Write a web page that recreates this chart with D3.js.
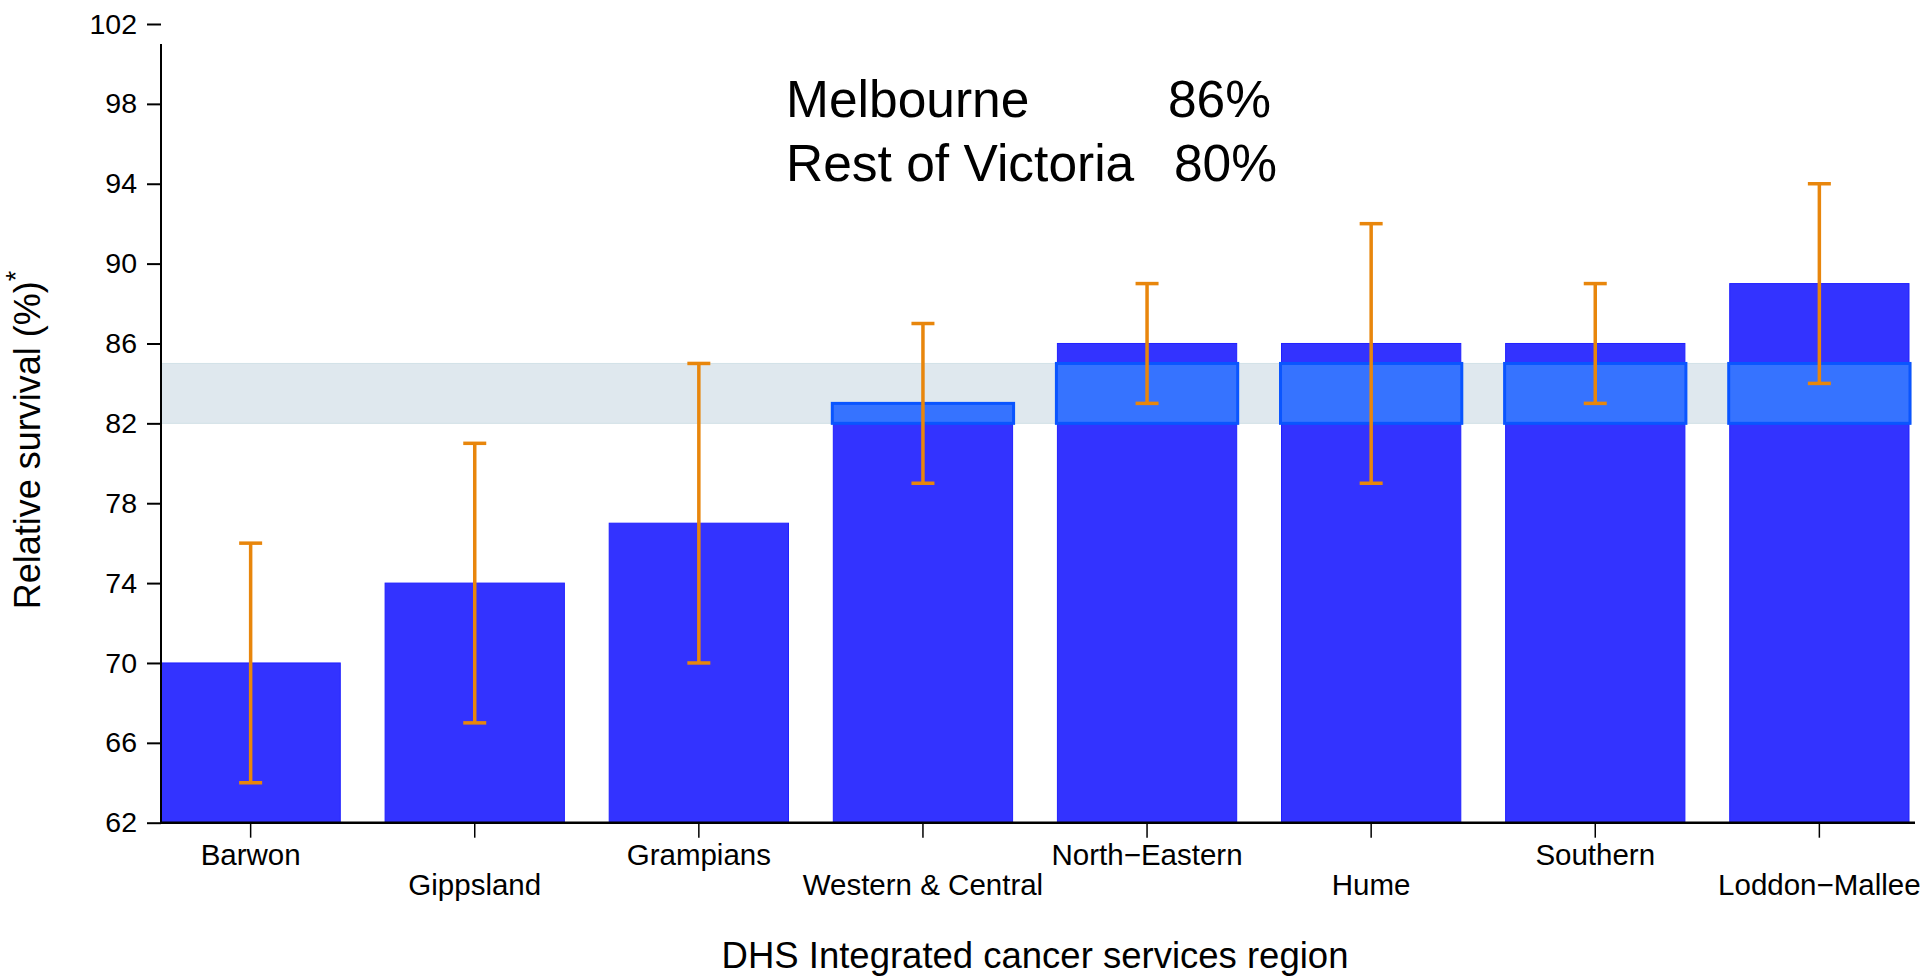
<!DOCTYPE html>
<html>
<head>
<meta charset="utf-8">
<script src="https://cdn.jsdelivr.net/npm/d3@7"></script>
<style>
  html, body { margin: 0; padding: 0; background: #fff; }
  svg { display: block; font-family: "Liberation Sans", Arial, Helvetica, sans-serif; }
</style>
</head>
<body>
<svg id="chart" width="1924" height="976"></svg>
<script>
// ---- data ----
const regions = ["Barwon", "Gippsland", "Grampians", "Western & Central", "North\u2212Eastern", "Hume", "Southern", "Loddon\u2212Mallee"];
const survival = [70, 74, 77, 83, 86, 86, 86, 89];
const ciLower = [64, 67, 70, 79, 83, 79, 83, 84];
const ciUpper = [76, 81, 85, 87, 89, 92, 89, 94];
const bandRange = [82, 85];          // shaded reference band
const yTicks = [62, 66, 70, 74, 78, 82, 86, 90, 94, 98, 102];
const yDomain = [62, 102];
const yAxisLineTop = 101;
const annotLabels = ["Melbourne", "Rest of Victoria"];
const annotValues = ["86%", "80%"];

// ---- layout ----
const svg = d3.select("#chart");
const x = d3.scaleBand().domain(regions).range([161, 1909]).paddingInner(0.2).paddingOuter(0);
const y = d3.scaleLinear().domain(yDomain).range([822.7, 24]);
const plotRight = 1915;

const barFill = "#3333ff", barStroke = "#2020ff";
const overFill = "#3673ff", overStroke = "#0a55ff";
const bandFill = "#dfe8ee", bandStroke = "#d2e1e7";
const errColor = "#e8860c";

// shaded band
svg.append("rect")
  .attr("x", x.range()[0]).attr("width", x.range()[1] - x.range()[0] + 2)
  .attr("y", y(bandRange[1])).attr("height", y(bandRange[0]) - y(bandRange[1]))
  .attr("fill", bandFill).attr("stroke", bandStroke).attr("stroke-width", 1);

// bars
svg.append("g").selectAll("rect").data(regions).join("rect")
  .attr("x", d => x(d)).attr("width", x.bandwidth())
  .attr("y", (d, i) => y(survival[i]))
  .attr("height", (d, i) => y(yDomain[0]) - y(survival[i]))
  .attr("fill", barFill).attr("stroke", barStroke).attr("stroke-width", 1);

// overlap rectangles (bar ∩ band)
svg.append("g").selectAll("rect")
  .data(regions.map((d, i) => ({ d, top: Math.min(survival[i], bandRange[1]), bot: bandRange[0], v: survival[i] }))
    .filter(o => o.v > bandRange[0]))
  .join("rect")
  .attr("x", o => x(o.d) - 1).attr("width", x.bandwidth() + 2)
  .attr("y", o => y(o.top)).attr("height", o => y(o.bot) - y(o.top))
  .attr("fill", overFill).attr("stroke", overStroke).attr("stroke-width", 3);

// error bars
const eg = svg.append("g").attr("stroke", errColor).attr("stroke-width", 3.5);
regions.forEach((d, i) => {
  const cx = x(d) + x.bandwidth() / 2;
  eg.append("line").attr("x1", cx).attr("x2", cx).attr("y1", y(ciLower[i])).attr("y2", y(ciUpper[i]));
  eg.append("line").attr("x1", cx - 11.5).attr("x2", cx + 11.5).attr("y1", y(ciLower[i])).attr("y2", y(ciLower[i]));
  eg.append("line").attr("x1", cx - 11.5).attr("x2", cx + 11.5).attr("y1", y(ciUpper[i])).attr("y2", y(ciUpper[i]));
});

// y axis
const yAxis = d3.axisLeft(y).tickValues(yTicks).tickSize(14).tickPadding(10).tickSizeOuter(0);
const gy = svg.append("g").attr("transform", "translate(161,0)").call(yAxis);
gy.select(".domain").remove();
gy.append("line").attr("x1", 0).attr("x2", 0).attr("y1", y(yAxisLineTop)).attr("y2", y(yDomain[0]) + 1)
  .attr("stroke", "#000").attr("stroke-width", 2);
gy.selectAll(".tick line").attr("stroke", "#000").attr("stroke-width", 2);
gy.selectAll(".tick text").attr("font-size", 28.5).attr("fill", "#000")
  .attr("font-family", "Liberation Sans, Arial, sans-serif");

// x axis
const xAxis = d3.axisBottom(x).tickSize(15).tickSizeOuter(0).tickFormat("");
const gx = svg.append("g").attr("transform", `translate(0,${y(yDomain[0])})`).call(xAxis);
gx.select(".domain").remove();
gx.append("line").attr("x1", 160).attr("x2", plotRight).attr("y1", 0).attr("y2", 0)
  .attr("stroke", "#000").attr("stroke-width", 2.5);
gx.selectAll(".tick line").attr("stroke", "#000").attr("stroke-width", 1.5);
gx.selectAll(".lbl").data(regions).join("text")
  .attr("class", "lbl")
  .attr("x", d => x(d) + x.bandwidth() / 2)
  .attr("y", (d, i) => i % 2 === 0 ? 42.5 : 72.5)
  .attr("text-anchor", "middle").attr("font-size", 29.5).attr("fill", "#000")
  .text(d => d);

// axis titles
svg.append("text").attr("x", 1035).attr("y", 968).attr("text-anchor", "middle")
  .attr("font-size", 36.5).attr("fill", "#000").text("DHS Integrated cancer services region");
const yt = svg.append("text").attr("transform", "translate(40,440) rotate(-90)")
  .attr("text-anchor", "middle").attr("font-size", 36).attr("fill", "#000");
yt.append("tspan").text("Relative survival (%)");
yt.append("tspan").attr("dy", -15).attr("font-size", 27).text("*");

// annotation
svg.append("g").selectAll("text").data(annotLabels).join("text")
  .attr("x", 786).attr("y", (d, i) => 117 + i * 64)
  .attr("font-size", 51.5).attr("fill", "#000").text(d => d);
svg.append("g").selectAll("text").data(annotValues).join("text")
  .attr("x", (d, i) => i === 0 ? 1271 : 1277).attr("y", (d, i) => 117 + i * 64)
  .attr("text-anchor", "end").attr("font-size", 51.5).attr("fill", "#000").text(d => d);
</script>
</body>
</html>
